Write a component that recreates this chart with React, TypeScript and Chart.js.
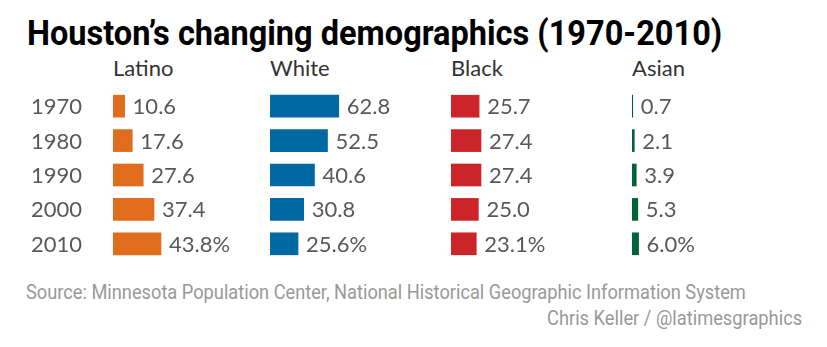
import React, { useEffect, useLayoutEffect, useRef, useState } from "react";
import { Chart, registerables } from "chart.js";

Chart.register(...registerables);

const years = ["1970", "1980", "1990", "2000", "2010"];
const groups = ["Latino", "White", "Black", "Asian"];
const latino = [10.6, 17.6, 27.6, 37.4, 43.8];
const white = [62.8, 52.5, 40.6, 30.8, 25.6];
const black = [25.7, 27.4, 27.4, 25.0, 23.1];
const asian = [0.7, 2.1, 3.9, 5.3, 6.0];
const seriesValues = [latino, white, black, asian];
const colors = ["#e06c1e", "#0068a3", "#cc2529", "#006338"];

const TITLE = "Houston\u2019s changing demographics (1970-2010)";
const SOURCE = "Source: Minnesota Population Center, National Historical Geographic Information System";
const CREDIT = "Chris Keller / @latimesgraphics";

// layout
const COL_X = [113, 270, 451, 632];
const AREA_W = 150;
const PX_PER_UNIT = 1.095;
const AXIS_W = 113;
const YEAR_GAP = 31;
const CHART_TOP = 89;
const CHART_H = 172;
const BODY_FONT = "Lato, 'Open Sans', sans-serif";
const HEAD_FONT = "Roboto, 'Liberation Sans', sans-serif";
const TEXT_GRAY = "#58595b";

const valueLabels = {
  id: "valueLabels",
  afterDatasetsDraw(chart: any) {
    const ctx = chart.ctx;
    ctx.save();
    ctx.font = "22px " + BODY_FONT;
    ctx.fillStyle = TEXT_GRAY;
    ctx.textAlign = "left";
    ctx.textBaseline = "middle";
    chart.data.datasets.forEach((ds: any, di: number) => {
      const meta = chart.getDatasetMeta(di);
      meta.data.forEach((bar: any, i: number) => {
        const v = ds.data[i] as number;
        const txt = v.toFixed(1) + (i === ds.data.length - 1 ? "%" : "");
        ctx.fillText(txt, bar.x + 8, bar.y + 1);
      });
    });
    ctx.restore();
  },
};

const yearLabels = {
  id: "yearLabels",
  afterDraw(chart: any) {
    const ctx = chart.ctx;
    const y = chart.scales.y;
    ctx.save();
    ctx.font = "22px " + BODY_FONT;
    ctx.fillStyle = TEXT_GRAY;
    ctx.textAlign = "right";
    ctx.textBaseline = "middle";
    (chart.data.labels as string[]).forEach((lab, i) => {
      ctx.fillText(lab, chart.chartArea.left - YEAR_GAP, y.getPixelForValue(i) + 1);
    });
    ctx.restore();
  },
};

function BarColumn({ index }: { index: number }) {
  const ref = useRef<HTMLCanvasElement | null>(null);
  const showYears = index === 0;
  const left = showYears ? 0 : COL_X[index];
  const width = showYears ? AXIS_W + AREA_W : AREA_W;
  useEffect(() => {
    let chart: Chart | null = null;
    let cancelled = false;
    const make = () => {
      if (cancelled || !ref.current) return;
      chart = new Chart(ref.current, {
        type: "bar",
        data: {
          labels: years,
          datasets: [
            {
              label: groups[index],
              data: seriesValues[index],
              backgroundColor: colors[index],
              borderWidth: 0,
              barThickness: 22,
            },
          ],
        },
        options: {
          indexAxis: "y",
          animation: false,
          responsive: false,
          maintainAspectRatio: false,
          layout: { padding: { left: showYears ? AXIS_W : 0, top: 0, right: 0, bottom: 0 } },
          plugins: { legend: { display: false }, tooltip: { enabled: false } },
          scales: {
            x: { display: false, min: 0, max: AREA_W / PX_PER_UNIT },
            y: { display: false, offset: true },
          },
        },
        plugins: showYears ? [valueLabels, yearLabels] : [valueLabels],
      });
    };
    document.fonts
      .load("22px Lato")
      .catch(() => null)
      .then(make);
    return () => {
      cancelled = true;
      if (chart) chart.destroy();
    };
  }, [index]);
  return (
    <canvas
      ref={ref}
      width={width}
      height={CHART_H}
      style={{ position: "absolute", left, top: CHART_TOP, width, height: CHART_H }}
    />
  );
}

function FitText({
  text,
  target,
  style,
  anchorRight,
}: {
  text: string;
  target: number;
  style: React.CSSProperties;
  anchorRight?: boolean;
}) {
  const ref = useRef<HTMLSpanElement | null>(null);
  const [scale, setScale] = useState(1);
  useLayoutEffect(() => {
    let alive = true;
    const measure = () => {
      if (alive && ref.current) {
        const w = ref.current.offsetWidth;
        if (w > 0) setScale(target / w);
      }
    };
    measure();
    document.fonts.ready.then(measure);
    return () => {
      alive = false;
    };
  }, [text, target]);
  return (
    <div
      style={{
        position: "absolute",
        whiteSpace: "nowrap",
        transform: `scaleX(${scale})`,
        transformOrigin: anchorRight ? "right top" : "left top",
        ...style,
      }}
    >
      <span ref={ref}>{text}</span>
    </div>
  );
}

export default function App() {
  return (
    <div
      style={{
        position: "absolute",
        left: 0,
        top: 0,
        width: 827,
        height: 347,
        background: "#ffffff",
        overflow: "hidden",
      }}
    >
      <FitText
        text={TITLE}
        target={695}
        style={{
          left: 27,
          top: 15.5,
          fontFamily: HEAD_FONT,
          fontWeight: 700,
          fontSize: 35,
          lineHeight: "35px",
          color: "#000",
        }}
      />
      {groups.map((g, i) => (
        <div
          key={g}
          style={{
            position: "absolute",
            left: COL_X[i],
            top: 56.5,
            fontFamily: BODY_FONT,
            fontSize: 22,
            lineHeight: "22px",
            color: "#333333",
            whiteSpace: "nowrap",
          }}
        >
          {g}
        </div>
      ))}
      {groups.map((g, i) => (
        <BarColumn key={g} index={i} />
      ))}
      <FitText
        text={SOURCE}
        target={720}
        style={{
          left: 26,
          top: 282.5,
          fontFamily: HEAD_FONT,
          fontSize: 19.5,
          lineHeight: "19.5px",
          color: "#999999",
        }}
      />
      <FitText
        text={CREDIT}
        target={255}
        anchorRight
        style={{
          right: 25,
          top: 309,
          fontFamily: HEAD_FONT,
          fontSize: 19.5,
          lineHeight: "19.5px",
          color: "#999999",
        }}
      />
    </div>
  );
}
